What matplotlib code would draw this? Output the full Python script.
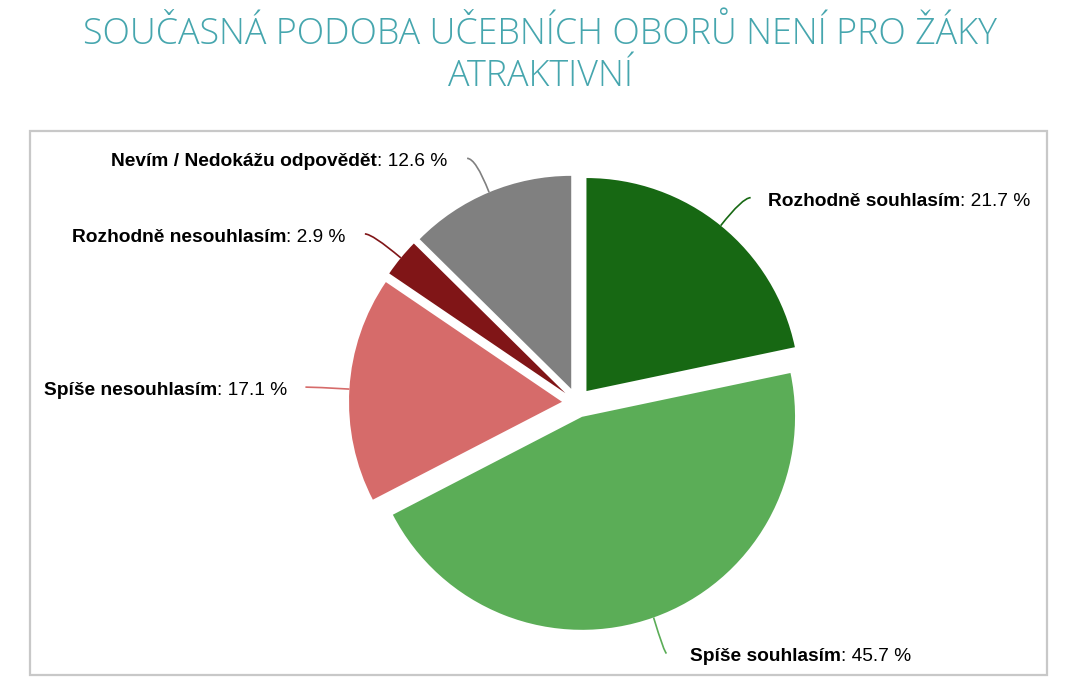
import numpy as np
import matplotlib
matplotlib.use("Agg")
import matplotlib.pyplot as plt
from matplotlib.patches import Rectangle, PathPatch
from matplotlib.path import Path

# ---- data ----
title_lines = ["SOUČASNÁ PODOBA UČEBNÍCH OBORŮ NENÍ PRO ŽÁKY", "ATRAKTIVNÍ"]
categories = ["Rozhodně souhlasím", "Spíše souhlasím", "Spíše nesouhlasím",
              "Rozhodně nesouhlasím", "Nevím / Nedokážu odpovědět"]
values = [21.7, 45.7, 17.1, 2.9, 12.6]
colors = ["#176813", "#5BAD57", "#D66B6A", "#801517", "#808080"]

# ---- layout (pixels) ----
W, H = 1070, 689
fig = plt.figure(figsize=(W / 100, H / 100), dpi=100)
ax = fig.add_axes([0, 0, 1, 1])
cx, cy, R, E = 577.0, 402.7, 213.0, 15.0

ax.pie(values, colors=colors, startangle=-90, counterclock=True,
       radius=R, center=(cx, cy), explode=[E] * len(values),
       wedgeprops=dict(linewidth=0), frame=True)
ax.set_xlim(0, W)
ax.set_ylim(H, 0)
ax.set_aspect("auto")
ax.axis("off")

# chart border
ax.add_patch(Rectangle((30, 131), 1017, 544, fill=False, edgecolor="#C8C8C8", linewidth=1.6))

# title
tfont = "Open Sans"
t1 = ax.text(540, 35, title_lines[0], ha="center", va="center", fontsize=24,
             family=tfont, weight="light", color="#46A6AE")
t2 = ax.text(540, 77, title_lines[1], ha="center", va="center", fontsize=24,
             family=tfont, weight="light", color="#46A6AE")
fig.canvas.draw()
r = fig.canvas.get_renderer()
wcur = t1.get_window_extent(r).width
scale = 914 / wcur
t1.set_fontsize(24 * scale)
t2.set_fontsize(24 * scale)

# labels
label_off = [(30, -28), (13, 36), (-44, -2), (-36, -24), (-22, -34)]
gaps = [17, 23, 18, 19, 20]
text_dy = 3.5
lfont = ["Liberation Sans", "DejaVu Sans"]
lsize = 13.8

total = sum(values)
cum = 0.0
for cat, v, col, off, gap in zip(categories, values, colors, label_off, gaps):
    phi = np.deg2rad((cum + v / 2) / total * 360)
    cum += v
    d = np.array([np.sin(phi), -np.cos(phi)])
    vert = np.array([cx, cy]) + E * d
    p0 = vert + R * d
    p2 = p0 + np.array(off)
    t = (p2[1] - p0[1]) / d[1] if abs(d[1]) > 1e-6 else 0
    t = min(max(t, 0), 0.85 * np.hypot(*off))
    c = p0 + t * d
    c[1] = p2[1] if t > 0 else c[1]
    path = Path([p0, c, p2], [Path.MOVETO, Path.CURVE3, Path.CURVE3])
    ax.add_patch(PathPatch(path, fill=False, edgecolor=col, linewidth=1.2))
    right = off[0] > 0
    tb = ax.text(0, 0, cat, fontsize=lsize, family=lfont, weight="bold", va="center")
    tn = ax.text(0, 0, f": {v:.1f} %", fontsize=lsize, family=lfont, va="center")
    fig.canvas.draw()
    wb = tb.get_window_extent(r).width
    wn = tn.get_window_extent(r).width
    if right:
        x0 = p2[0] + gap
    else:
        x0 = p2[0] - gap - wb - wn
    ty = p2[1] + text_dy
    tb.set_position((x0, ty))
    tn.set_position((x0 + wb, ty))

fig.savefig("out.png", dpi=100, facecolor="white")
